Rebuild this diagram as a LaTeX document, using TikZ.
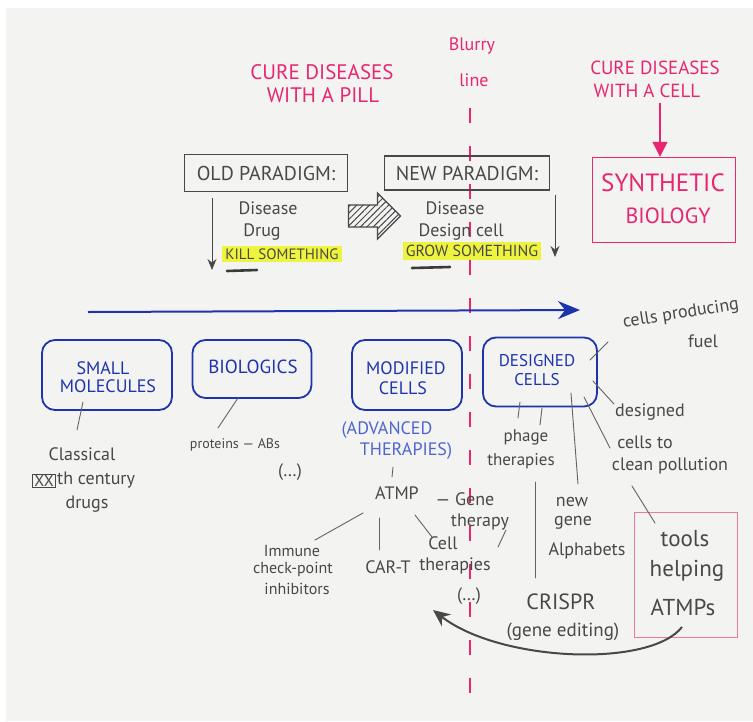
\documentclass[tikz,border=0pt]{standalone}
\usepackage{fontspec}
\setmainfont{PT Sans}
\usetikzlibrary{arrows.meta,patterns.meta,shapes.arrows}
\definecolor{paper}{RGB}{243,243,242}
\definecolor{pinkc}{RGB}{232,38,112}
\definecolor{pinkl}{RGB}{236,120,165}
\definecolor{bluec}{RGB}{30,52,172}
\definecolor{bluel}{RGB}{80,100,205}
\definecolor{grayc}{RGB}{72,72,72}
\definecolor{hlc}{RGB}{238,243,62}
\newcommand{\hsz}[1]{\fontsize{#1}{#1}\selectfont}
\begin{document}
\begin{tikzpicture}[x=1pt,y=-1pt,
  every node/.style={inner sep=0pt,anchor=center},
  gt/.style={text=grayc,font={\hsz{18}}},
  pt/.style={text=pinkc,font={\hsz{18}}},
  bt/.style={text=bluec,font={\hsz{18}}},
  btl/.style={text=bluel,font={\hsz{18}}},
  gline/.style={draw=grayc!85,line width=0.9pt,line cap=round},
  bluebox/.style={draw=bluec,line width=1.8pt,rounded corners=13pt},
  parbox/.style={draw=grayc,line width=1.2pt,text=grayc,font={\hsz{20}}},
  hl/.style={fill=hlc,inner xsep=3pt,inner ysep=3pt,text=grayc},
  garrow/.style={draw=grayc,line width=1pt,-{Stealth[length=11pt,width=9pt]}},
]
\useasboundingbox (0,0) rectangle (753,721);
\fill[white] (0,0) rectangle (753,721);
\fill[paper] (6,8) rectangle (753,721);

% ---------- blurry line ----------
\node[pt] (blurry) at (472,46) {Blurry};
\node[pt] (blline) at (474,80) {line};
\coordinate (blurtop) at (470,108);
\coordinate (blurbot) at (470,710);
\draw[pinkc,line width=2.6pt,dash pattern=on 15pt off 23pt] (blurtop) -- (blurbot);

% ---------- top pink texts ----------
\node[pt,font={\hsz{21}}] (pill1) at (322,72) {CURE DISEASES};
\node[pt,font={\hsz{21}}] (pill2) at (323,95) {WITH A PILL};
\node[pt,font={\hsz{19}}] (cell1) at (655,68) {CURE DISEASES};
\node[pt,font={\hsz{19}}] (cell2) at (647,91) {WITH A CELL};
\node[draw=pinkc,line width=1.5pt,minimum width=143pt,minimum height=85pt] (synbox) at (664,200) {};
\node[text=pinkc,font={\hsz{25}}] (syn1) at (663,183) {SYNTHETIC};
\node[text=pinkc,font={\hsz{22}}] (syn2) at (668,216) {BIOLOGY};
\coordinate (parrowtop) at (660,103);
\draw[pinkc,line width=1.3pt,-{Triangle[length=15pt,width=15pt]}] (parrowtop) -- (synbox.north -| parrowtop);

% ---------- paradigms ----------
\node[parbox,minimum width=163pt,minimum height=37pt] (old) at (266,173) {OLD PARADIGM:};
\node[parbox,minimum width=165pt,minimum height=34pt] (new) at (467,173) {NEW PARADIGM:};
\node[gt] (dis1) at (268,208) {Disease};
\node[gt] (drug) at (262,232) {Drug};
\node[hl,font={\hsz{15}}] (kill) at (282,254) {KILL SOMETHING};
\node[gt] (dis2) at (455,208) {Disease};
\node[gt] (design) at (461,232) {Design cell};
\node[hl,font={\hsz{16}}] (grow) at (472,251) {GROW SOMETHING};
\coordinate (oa1) at (212,198); \coordinate (oa2) at (212,270);
\draw[garrow] (oa1) -- (oa2);
\coordinate (na1) at (555,195); \coordinate (na2) at (555,257);
\draw[garrow] (na1) -- (na2);
\coordinate (u1a) at (227,271); \coordinate (u1b) at (257,270);
\draw[grayc!80!black,line width=2.6pt,line cap=round] (u1a) -- (u1b);
\coordinate (u2a) at (412,268); \coordinate (u2b) at (450,267);
\draw[grayc!80!black,line width=2.6pt,line cap=round] (u2a) -- (u2b);
\node[single arrow,draw=grayc,line width=1.3pt,minimum height=52pt,minimum width=45pt,
      single arrow head extend=12pt,inner xsep=0pt,inner ysep=10.5pt,
      pattern={Lines[angle=45,distance=4.5pt,line width=1pt]},pattern color=grayc] (hatch) at (369,216) {};

% ---------- timeline ----------
\coordinate (tl1) at (88,312); \coordinate (tl2) at (580,310);
\draw[bluec,line width=2pt,-{Stealth[length=22pt,width=18pt]}] (tl1) -- (tl2);

% ---------- blue boxes ----------
\node[bluebox,minimum width=130pt,minimum height=70pt] (small) at (107,375) {};
\node[bt] (sm1) at (103,368) {SMALL};
\node[bt] (sm2) at (108,386) {MOLECULES};
\node[bluebox,minimum width=119pt,minimum height=58pt] (bio) at (252,369) {};
\node[bt,font={\hsz{19}}] (bio1) at (253,367) {BIOLOGICS};
\node[bluebox,minimum width=110pt,minimum height=70pt] (mod) at (407,375) {};
\node[bt] (mod1) at (406,368) {MODIFIED};
\node[bt] (mod2) at (403,388) {CELLS};
\node[bluebox,minimum width=114pt,minimum height=69pt] (des) at (540,372) {};
\node[bt,font={\hsz{17}}] (des1) at (537,361) {DESIGNED};
\node[bt,font={\hsz{17}}] (des2) at (537,380) {CELLS};

% ---------- small molecules branch ----------
\node[gt] (clas) at (82,454) {Classical};
\node[draw=grayc,line width=0.8pt,inner xsep=1.5pt,inner ysep=1pt,text=grayc,font={\hsz{16}}] (xxbox) at (44,481) {XX};
\node[gt,anchor=west] (cent) at (57,480) {th century};
\node[gt] (drugs) at (87,504) {drugs};
\coordinate (s1) at (83,402); \coordinate (s2) at (77,430);
\draw[gline] (s1) -- (s2);

% ---------- biologics branch ----------
\node[gt,font={\hsz{14}}] (prot) at (235,445) {proteins — ABs};
\node[gt] (bdots) at (290,472) {(…)};
\coordinate (b1) at (238,398); \coordinate (b2) at (218,428);
\draw[gline] (b1) -- (b2);

% ---------- modified cells branch ----------
\node[btl] (adv1) at (387,430) {(ADVANCED};
\node[btl] (adv2) at (406,451) {THERAPIES)};
\coordinate (m1) at (393,467); \coordinate (m2) at (392,477);
\draw[gline] (m1) -- (m2);
\node[gt] (atmp) at (397,493) {ATMP};
\node[gt] (gene) at (465,499) {— Gene};
\node[gt] (ther) at (480,522) {therapy};
\node[gt,font={\hsz{16}}] (imm1) at (292,551) {Immune};
\node[gt,font={\hsz{16}}] (imm2) at (293,569) {check-point};
\node[gt,font={\hsz{16}}] (imm3) at (297,589) {inhibitors};
\node[gt] (cart) at (388,567) {CAR-T};
\node[gt] (cell1t) at (443,543) {Cell};
\node[gt] (cell2t) at (455,566) {therapies};
\node[gt] (mdots) at (469,596) {(…)};
\coordinate (a1) at (363,513); \coordinate (a2) at (315,540);
\draw[gline] (a1) -- (a2);
\coordinate (a3) at (379,518); \coordinate (a4) at (379,550);
\draw[gline] (a3) -- (a4);
\coordinate (a5) at (415,515); \coordinate (a6) at (432,537);
\draw[gline] (a5) -- (a6);
\coordinate (t1) at (506,530); \coordinate (t2) at (498,547);
\draw[gline] (t1) -- (t2);

% ---------- designed cells branch ----------
\node[gt,rotate=9] (fuel1) at (681,314) {cells producing};
\node[gt] (fuel2) at (703,341) {fuel};
\coordinate (d1) at (590,360); \coordinate (d2) at (608,342);
\draw[gline] (d1) -- (d2);
\node[gt,font={\hsz{17}}] (phage) at (526,437) {phage};
\node[gt,font={\hsz{17}}] (pther) at (521,461) {therapies};
\coordinate (p1) at (520,402); \coordinate (p2) at (518,418);
\draw[gline] (p1) -- (p2);
\coordinate (p3) at (542,408); \coordinate (p4) at (540,425);
\draw[gline] (p3) -- (p4);
\coordinate (n1) at (571,393); \coordinate (n2) at (578,484);
\draw[gline] (n1) -- (n2);
\node[gt] (new1) at (572,502) {new};
\node[gt] (new2) at (573,523) {gene};
\node[gt] (new3) at (587,551) {Alphabets};
\node[gt] (dsg1) at (650,412) {designed};
\node[gt] (dsg2) at (645,442) {cells to};
\node[gt] (dsg3) at (670,466) {clean pollution};
\coordinate (c1) at (593,381); \coordinate (c2) at (614,404);
\draw[gline] (c1) -- (c2);
\coordinate (c3) at (584,397); \coordinate (c4) at (610,448);
\draw[gline] (c3) -- (c4);
\coordinate (r1) at (535,482); \coordinate (r2) at (535,578);
\draw[gline] (r1) -- (r2);
\node[text=grayc,font={\hsz{22}}] (crispr) at (561,602) {CRISPR};
\node[gt,font={\hsz{19}}] (gedit) at (563,632) {(gene editing)};

% ---------- tools box ----------
\node[draw=pinkl,line width=1.2pt,minimum width=103pt,minimum height=125pt] (tools) at (686,575) {};
\node[text=grayc,font={\hsz{23}}] (tl1t) at (685,539) {tools};
\node[text=grayc,font={\hsz{23}}] (tl2t) at (687,571) {helping};
\node[text=grayc,font={\hsz{23}}] (tl3t) at (683,607) {ATMPs};
\coordinate (k1) at (632,486); \coordinate (k2) at (655,523);
\draw[gline] (k1) -- (k2);

% ---------- curved arrow ----------
\coordinate (ca1) at (682,627);
\coordinate (ca2) at (433,610);
\draw[grayc,line width=2pt,-{Stealth[length=17pt,width=15pt]}]
  (ca1) .. controls (650,668) and (500,662) .. (ca2);
\end{tikzpicture}
\end{document}
